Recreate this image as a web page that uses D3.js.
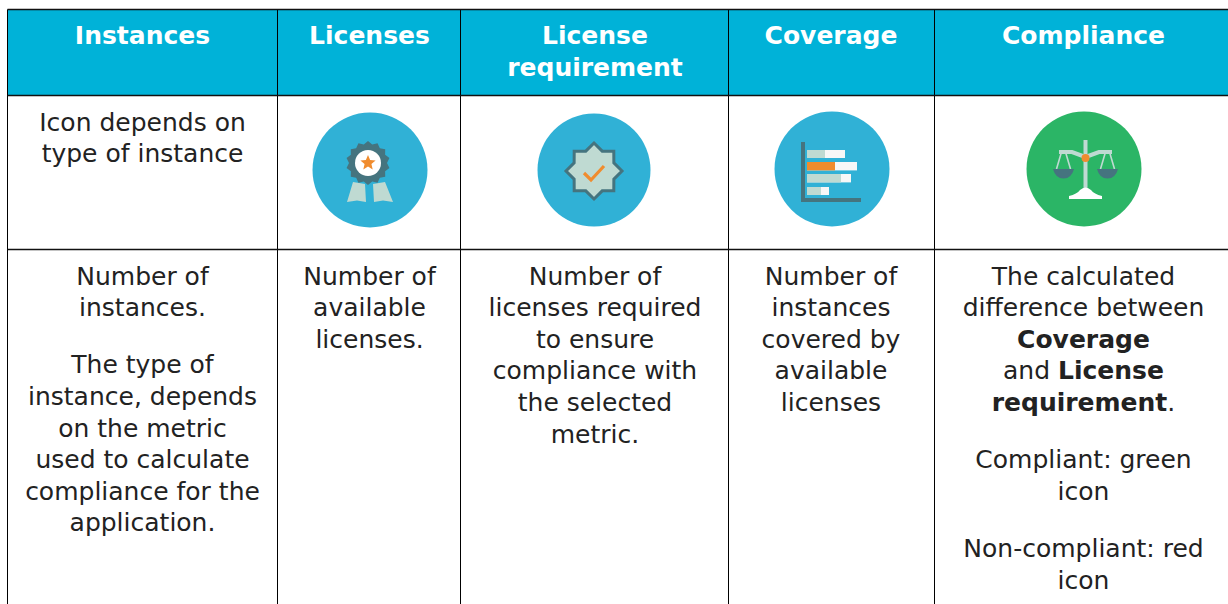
<!DOCTYPE html>
<meta charset="utf-8">
<title>Compliance table</title>
<style>
  html, body { margin: 0; padding: 0; background: #fff; overflow: hidden; }
  text { font-family: "DejaVu Sans", Verdana, sans-serif; }
</style>
<body>
<div id="my_table"></div>
<script src="https://cdn.jsdelivr.net/npm/d3@7"></script>
<script>

// table content, one list per row
var headers = [
  ["Instances"],
  ["Licenses"],
  ["License", "requirement"],
  ["Coverage"],
  ["Compliance"]
];

var iconRow = [["Icon depends on", "type of instance"]];

// each column: paragraphs > lines, a line is a string or a list of [text, bold] runs
var instancesText = [
  ["Number of", "instances."],
  ["The type of", "instance, depends", "on the metric", "used to calculate", "compliance for the", "application."]
];
var licensesText = [["Number of", "available", "licenses."]];
var requirementText = [["Number of", "licenses required", "to ensure", "compliance with", "the selected", "metric."]];
var coverageText = [["Number of", "instances", "covered by", "available", "licenses"]];
var complianceText = [
  ["The calculated", "difference between", [["Coverage", true]], [["and ", false], ["License", true]], [["requirement", true], [".", false]]],
  ["Compliant: green", "icon"],
  ["Non-compliant: red", "icon"]
];
var bodyRow = [instancesText, licensesText, requirementText, coverageText, complianceText];

var icons = ["ribbon", "badge", "bars", "scales"];

// layout
var W = 1228, H = 604;
var colEdges = [7.5, 277.5, 460.5, 728.5, 934.5, 1232];
var rowEdges = [9.5, 95.5, 249.5, 620];
var colCenter = [142.5, 369.5, 595, 831, 1083.5];
var lineH = 31.6, paraGap = 25.6, fontSize = 25, headSize = 25;

var svg = d3.select("#my_table").append("svg")
    .attr("width", W).attr("height", H)
    .style("display", "block");

// header background
svg.append("rect")
    .attr("x", colEdges[0]).attr("y", rowEdges[0])
    .attr("width", colEdges[5] - colEdges[0]).attr("height", rowEdges[1] - rowEdges[0])
    .style("fill", "#00b2d8");

// grid lines
svg.selectAll("line.v").data(colEdges).enter().append("line")
    .attr("x1", function(d) { return d; }).attr("x2", function(d) { return d; })
    .attr("y1", rowEdges[0]).attr("y2", rowEdges[3])
    .style("stroke", "#000").style("stroke-width", 1);
svg.selectAll("line.h").data(rowEdges.slice(0, 3)).enter().append("line")
    .attr("x1", colEdges[0]).attr("x2", colEdges[5])
    .attr("y1", function(d) { return d; }).attr("y2", function(d) { return d; })
    .style("stroke", "#111").style("stroke-width", 1.4);

function addLine(x, y, line, opts) {
  var t = svg.append("text")
      .attr("x", x).attr("y", y)
      .attr("text-anchor", "middle")
      .style("font-size", opts.size + "px")
      .style("font-weight", opts.bold ? "bold" : "normal")
      .style("fill", opts.color);
  if (typeof line === "string") { t.text(line); return; }
  line.forEach(function(run) {
    t.append("tspan").style("font-weight", run[1] ? "bold" : "normal").text(run[0]);
  });
}

// header text
headers.forEach(function(lines, i) {
  lines.forEach(function(l, j) {
    addLine(colCenter[i], 43.5 + j * 32, l, {size: headSize, bold: true, color: "#fff"});
  });
});

// icon row text
iconRow[0].forEach(function(l, j) {
  addLine(colCenter[0], 130.5 + j * lineH, l, {size: fontSize, color: "#222"});
});

// body text
bodyRow.forEach(function(paras, i) {
  var y = 284.5;
  paras.forEach(function(p) {
    p.forEach(function(l) {
      addLine(colCenter[i], y, l, {size: fontSize, color: "#222"});
      y += lineH;
    });
    y += paraGap;
  });
});

// icons
var blue = "#30b1d6", green = "#2bb566", dark = "#45747f", pale = "#bfdad2", orange = "#f08c2e", white = "#f7f7f7";

function starPath(n, r1, r2) {
  var pts = [];
  for (var i = 0; i < n * 2; i++) {
    var a = -Math.PI / 2 + i * Math.PI / n, r = i % 2 ? r2 : r1;
    pts.push([r * Math.cos(a), r * Math.sin(a)]);
  }
  return d3.line()(pts) + "Z";
}

function rect(g, x, y, w, h, c) {
  g.append("rect").attr("x", x).attr("y", y).attr("width", w).attr("height", h).style("fill", c);
}

var drawIcon = {
  ribbon: function(g) {
    g.append("path").attr("d", "M-17,12L-5,14L-4,32L-13,30.5L-23,32Z").style("fill", pale);
    g.append("path").attr("d", "M3,14L15,12L23,32L13,30.5L4,32Z").style("fill", pale);
    g.append("path").attr("d", starPath(14, 22, 19)).attr("transform", "translate(-2,-7)").style("fill", dark);
    g.append("circle").attr("cx", -2).attr("cy", -7).attr("r", 13).style("fill", "#fff");
    g.append("path").attr("d", starPath(5, 8, 3.6)).attr("transform", "translate(-2,-7)").style("fill", orange);
  },
  badge: function(g) {
    g.append("path").attr("d", starPath(8, 28, 21.5)).attr("transform", "translate(0,1)")
        .style("fill", pale).style("stroke", dark).style("stroke-width", 3).style("stroke-linejoin", "miter");
    g.append("path").attr("d", "M-10,3L-3,10L10,-4").style("fill", "none")
        .style("stroke", orange).style("stroke-width", 3.2);
  },
  bars: function(g) {
    var x0 = -25;
    rect(g, -31, -27, 4, 60, dark);
    rect(g, -31, 29, 60, 4, dark);
    rect(g, x0, -19, 38, 8, white); rect(g, x0, -19, 18, 8, pale);
    rect(g, x0, -7, 50, 8.4, white); rect(g, x0, -7, 28, 8.4, orange);
    rect(g, x0, 5, 44, 8.4, white); rect(g, x0, 5, 34, 8.4, pale);
    rect(g, x0, 18, 22, 8, white); rect(g, x0, 18, 14, 8, pale);
  },
  scales: function(g) {
    rect(g, -0.5, -29, 4, 52, pale);
    g.append("path").attr("d", "M-25,-17L-12,-17L1.5,-12L15,-17L28,-17").style("fill", "none")
        .style("stroke", pale).style("stroke-width", 4);
    [-20.5, 23.5].forEach(function(cx) {
      g.append("path").attr("d", "M" + (cx - 7) + ",0L" + (cx - 2) + ",-17M" + (cx + 2) + ",-17L" + (cx + 7) + ",0").style("fill", "none")
          .style("stroke", pale).style("stroke-width", 1.6);
      g.append("path").attr("d", "M" + (cx - 10.5) + ",0Q" + (cx - 8) + ",9.5 " + cx + ",9.5Q" + (cx + 8) + ",9.5 " + (cx + 10.5) + ",0Z").style("fill", dark);
    });
    g.append("circle").attr("cx", 1.5).attr("cy", -11).attr("r", 4).style("fill", orange);
    g.append("path").attr("d", "M-15,30L-15,27Q-7,25 -4,21Q1.5,16 7,21Q10,25 18,27L18,30Z").style("fill", "#fff");
  }
};

var iconSpots = {
  ribbon: {cx: 370, cy: 170, r: 57.5, fill: blue},
  badge: {cx: 594, cy: 170, r: 56.5, fill: blue},
  bars: {cx: 832, cy: 169, r: 57.5, fill: blue},
  scales: {cx: 1084, cy: 169, r: 57.5, fill: green}
};

icons.forEach(function(name) {
  var s = iconSpots[name];
  var g = svg.append("g").attr("transform", "translate(" + s.cx + "," + s.cy + ")");
  g.append("circle").attr("r", s.r).style("fill", s.fill);
  drawIcon[name](g);
});

</script>
</body>
